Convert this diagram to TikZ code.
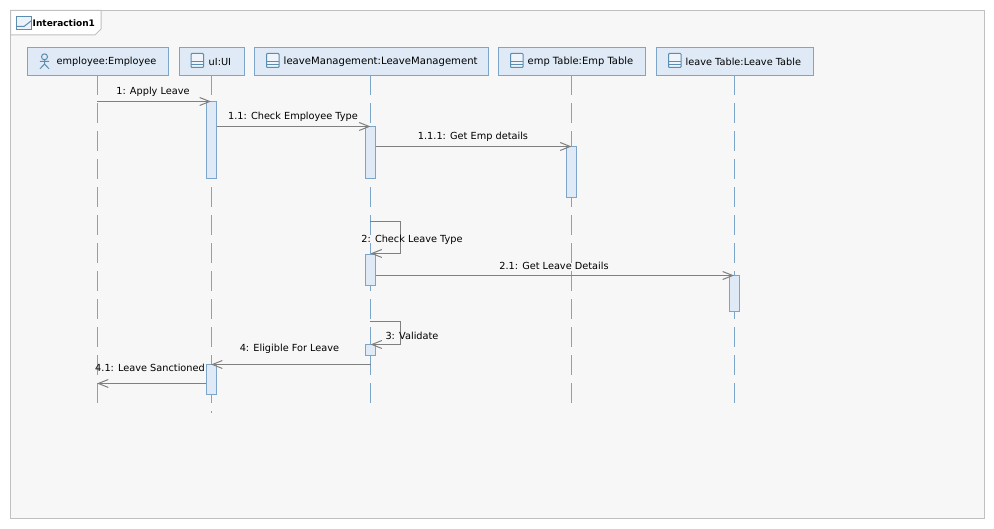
\documentclass[tikz,border=0pt]{standalone}
\usepackage{fontspec}
\setmainfont{DejaVu Sans}
\usetikzlibrary{arrows.meta}
\definecolor{hfill}{HTML}{DFEAF6}
\definecolor{hline}{HTML}{7DA5CA}
\definecolor{mline}{HTML}{808080}
\definecolor{fbg}{HTML}{F7F7F7}
\definecolor{fline}{HTML}{C0C0C0}
\definecolor{icon}{HTML}{5B8DB0}
\tikzset{
  x=1pt,y=-1pt,
  lbl/.style={inner sep=0pt,font=\fontsize{9.75}{11}\selectfont,text=black},
  headbox/.style={draw=hline,fill=hfill,line width=1pt,inner sep=0pt,minimum height=27.5pt},
  headtext/.style={lbl,anchor=west},
  lifeline/.style={draw=hline,line width=1pt,dash pattern=on 20pt off 8pt},
  actbox/.style={draw=hline,fill=hfill,line width=1pt,inner sep=0pt,minimum width=10.5pt},
  msg/.style={draw=mline,line width=1.1pt,-{Straight Barb[length=10pt,width=8pt,line width=1pt]}},
  iconline/.style={draw=icon,line width=1pt},
}
\newcommand{\tableicon}[2]{%
  \filldraw[iconline,fill=hfill!50,rounded corners=.8pt] (#1,#2) rectangle ++(12.5,14);
  \draw[iconline] (#1,#2+8.3) -- ++(12.5,0) (#1,#2+11) -- ++(12.5,0);
}
\begin{document}
\begin{tikzpicture}
\useasboundingbox (0,0) rectangle (994,529);
\fill[white] (0,0) rectangle (994,529);
% frame
\filldraw[draw=fline,fill=fbg,line width=1pt] (10.5,10.5) rectangle (984,518);
\filldraw[draw=fline,fill=white,line width=1pt] (10.5,10.5) -- (101,10.5) -- (101,29) -- (95,35) -- (10.5,35) -- cycle;
\filldraw[draw=icon,fill=hfill!60,line width=1pt] (16.5,16.5) rectangle (31,30);
\draw[draw=icon,line width=1pt] (16.5,26.5) -- (24,26.5) -- (31,21);
\node[lbl,anchor=west,font=\fontsize{9}{11}\selectfont\bfseries] (title) at (32.5,23.5) {Interaction1};
% lifeline heads
\node[headbox,minimum width=140.5pt] (hE) at (97.75,61.75) {};
\node[headbox,minimum width=65pt] (hU) at (211.5,61.75) {};
\node[headbox,minimum width=234pt] (hL) at (371.25,61.75) {};
\node[headbox,minimum width=147.5pt] (hT) at (572,61.75) {};
\node[headbox,minimum width=157pt] (hV) at (735,61.75) {};
% lifelines
\coordinate (eE) at (97.5,403);
\coordinate (eU) at (211,413);
\coordinate (eL) at (370.5,403);
\coordinate (eT) at (571.5,403);
\coordinate (eV) at (734,403);
\draw[lifeline] (97.5,75.5) -- (eE);
\draw[lifeline] (211,75.5) -- (eU);
\draw[lifeline] (370.5,75.5) -- (eL);
\draw[lifeline] (571.5,75.5) -- (eT);
\draw[lifeline] (734,75.5) -- (eV);
% head text and icons
\draw[iconline] (44.5,56.8) circle (3);
\draw[iconline] (44.5,59.8) -- (44.5,64) (39.8,61.5) -- (49.2,61.5) (40,68.8) -- (44.5,64) -- (49,68.8);
\tableicon{191}{53.5}
\tableicon{266.5}{53.5}
\tableicon{510.5}{53.5}
\tableicon{668.5}{53.5}
\node[headtext] (tE) at (56.5,62) {employee:Employee};
\node[headtext] (tU) at (208.5,62) {uI:UI};
\node[headtext,font=\fontsize{10.1}{11}\selectfont] (tL) at (283.5,62) {leaveManagement:LeaveManagement};
\node[headtext,font=\fontsize{9.95}{11}\selectfont] (tT) at (527.5,62) {emp Table:Emp Table};
\node[headtext] (tV) at (685.5,62) {leave Table:Leave Table};
% activations
\node[actbox,minimum height=76.5pt] (a1) at (211.5,140.25) {};
\node[actbox,minimum height=51.5pt] (a2) at (370.25,152.75) {};
\node[actbox,minimum height=51pt] (a3) at (571.25,172.5) {};
\node[actbox,minimum height=31.5pt] (a4) at (370.25,270.25) {};
\node[actbox,minimum height=36pt] (a5) at (734.25,294) {};
\node[actbox,minimum height=10.5pt] (a6) at (370.25,350.25) {};
\node[actbox,minimum height=29.5pt] (a7) at (211.5,379.75) {};
% message end points
\coordinate (m1s) at (97,101.5);   \coordinate (m1t) at (211,101.5);
\coordinate (m2s) at (217,126.5);  \coordinate (m2t) at (370.5,126.5);
\coordinate (m3s) at (375.5,146.5);\coordinate (m3t) at (571.5,146.5);
\coordinate (m4s) at (369.5,221.5);\coordinate (m4t) at (370.5,253.5);
\coordinate (m5s) at (375.5,275.5);\coordinate (m5t) at (734,275.5);
\coordinate (m6s) at (369.5,321.5);\coordinate (m6t) at (370.5,344.5);
\coordinate (m7s) at (370.5,364.5);\coordinate (m7t) at (211,364.5);
\coordinate (m8s) at (205.5,383.5);\coordinate (m8t) at (97,383.5);
% messages
\draw[msg] (m1s) -- (m1t);
\draw[msg] (m2s) -- (m2t);
\draw[msg] (m3s) -- (m3t);
\draw[msg] (m4s) -- (400.5,221.5) -- (400.5,253.5) -- (m4t);
\draw[msg] (m5s) -- (m5t);
\draw[msg] (m6s) -- (400.5,321.5) -- (400.5,344.5) -- (m6t);
\draw[msg] (m7s) -- (m7t);
\draw[msg] (m8s) -- (m8t);
% labels
\node[lbl] (l1) at (153,91.5) {1: Apply Leave};
\node[lbl] (l2) at (293,116.5) {1.1: Check Employee Type};
\node[lbl] (l3) at (473,136.5) {1.1.1: Get Emp details};
\node[lbl] (l4) at (412,239.5) {2: Check Leave Type};
\node[lbl] (l5) at (554,265.5) {2.1: Get Leave Details};
\node[lbl] (l6) at (412,335.5) {3: Validate};
\node[lbl] (l7) at (289.5,348.5) {4: Eligible For Leave};
\node[lbl] (l8) at (150,367.5) {4.1: Leave Sanctioned};
\end{tikzpicture}
\end{document}
